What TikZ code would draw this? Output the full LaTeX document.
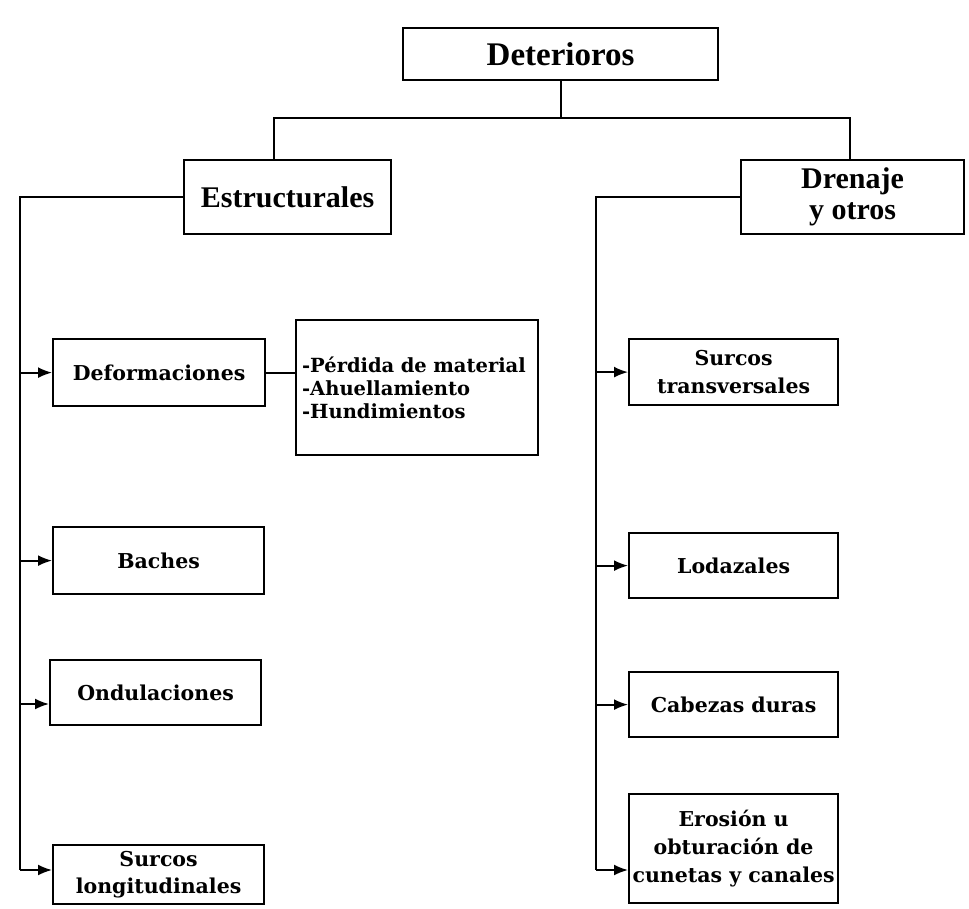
\documentclass[tikz,border=0pt]{standalone}
\usepackage{fontspec}
\setmainfont{Liberation Serif}
\newfontfamily\wideserif{DejaVu Serif}
\usetikzlibrary{arrows.meta}

\begin{document}
\begin{tikzpicture}[x=1pt,y=-1pt,
        box/.style={draw,line width=2.2pt,anchor=north west,inner sep=0pt,align=center},
        topfont/.style={font=\fontsize{30}{34}\selectfont\bfseries},
        subfont/.style={font=\wideserif\fontsize{20.5}{28}\selectfont\bfseries},
        link/.style={line width=1.8pt},
        arr/.style={line width=1.8pt,-{Latex[length=14pt,width=11pt]}}]
            \useasboundingbox (0,0) rectangle (969,908);
            % top level
            \node[box,minimum width=315pt,minimum height=52pt,font=\fontsize{33}{36}\selectfont\bfseries] (det) at (402,27) {Deterioros};
            \node[box,topfont,minimum width=207pt,minimum height=74pt] (est) at (183,159) {Estructurales};
            \node[box,topfont,minimum width=223pt,minimum height=74pt] (dren) at (740,159) {\raisebox{-3pt}{Drenaje}\\y otros};
            \coordinate (jl) at (274,118);
            \coordinate (jr) at (850,118);
            \draw[link] (det.south) -- (det.south |- jl);
            \draw[link] (jl |- est.north) -- (jl) -- (jr) -- (jr |- dren.north);
            % left branch
            \node[box,subfont,minimum width=212pt,minimum height=67pt] (def) at (52,338) {Deformaciones};
            \node[box,subfont,minimum width=242pt,minimum height=135pt,align=left,font=\wideserif\fontsize{19.5}{23}\selectfont\bfseries,text width=230pt] (perd) at (295,319) {-Pérdida de material\\-Ahuellamiento\\-Hundimientos};
            \node[box,subfont,minimum width=211pt,minimum height=67pt] (bac) at (52,526) {Baches};
            \node[box,subfont,minimum width=211pt,minimum height=65pt] (ond) at (49,659) {Ondulaciones};
            \node[box,subfont,minimum width=211pt,minimum height=59pt,font=\wideserif\fontsize{20.5}{27}\selectfont\bfseries] (slon) at (52,844) {Surcos\\longitudinales};
            \coordinate (lbot) at (20,870);
            \coordinate (lond) at (20,704);
            \draw[link] (est.west) -| (lbot);
            \draw[arr] (def.west -| lbot) -- (def.west);
            \draw[arr] (bac.west -| lbot) -- (bac.west);
            \draw[arr] (lond) -- (lond -| ond.west);
            \draw[arr] (lbot) -- (lbot -| slon.west);
            \draw[link] (def.east) -- (def.east -| perd.west);
            % right branch
            \node[box,subfont,minimum width=209pt,minimum height=66pt] (stra) at (628,338) {Surcos\\transversales};
            \node[box,subfont,minimum width=209pt,minimum height=65pt] (lod) at (628,532) {Lodazales};
            \node[box,subfont,minimum width=209pt,minimum height=65pt] (cab) at (628,671) {Cabezas duras};
            \node[box,subfont,minimum width=209pt,minimum height=109pt] (ero) at (628,793) {Erosión u\\obturación de\\cunetas y canales};
            \coordinate (rbot) at (596,870);
            \draw[link] (dren.west) -| (rbot);
            \draw[arr] (stra.west -| rbot) -- (stra.west);
            \draw[arr] (lod.west -| rbot) -- (lod.west);
            \draw[arr] (cab.west -| rbot) -- (cab.west);
            \draw[arr] (rbot) -- (rbot -| ero.west);
\end{tikzpicture}
\end{document}
